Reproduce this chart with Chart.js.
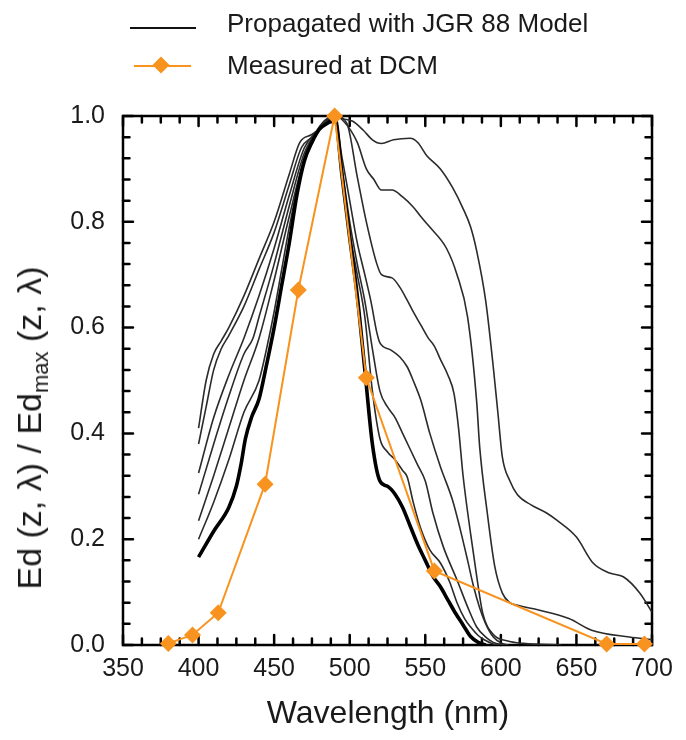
<!DOCTYPE html>
<html>
<head>
<meta charset="utf-8">
<script src="https://cdn.jsdelivr.net/npm/chart.js@4.4.1/dist/chart.umd.min.js"></script>
<style>
  body { margin: 0; background: #fff; }
  #wrap { position: relative; width: 686px; height: 740px; font-family: "Liberation Sans", Arial, sans-serif; color: #1a1a1a; }
  #chart { position: absolute; left: 0; top: 0; }
  .leg-row { position: absolute; left: 0; height: 30px; width: 686px; }
  .leg-line { position: absolute; height: 0; }
  .leg-text { position: absolute; left: 227px; top: 0; line-height: 30px; font-size: 26px; white-space: nowrap; }
  .leg-diamond { position: absolute; width: 12px; height: 12px; background: #f7931e; transform: rotate(45deg); }
  #ytitle { position: absolute; left: 32px; top: 428px; transform: translate(-50%, -50%) rotate(-90deg); font-size: 34px; white-space: nowrap; }
  #ytitle sub { font-size: 22px; vertical-align: -7px; }
  #xtitle { position: absolute; left: 388px; top: 712px; transform: translate(-50%, -50%); font-size: 32px; white-space: nowrap; }
</style>
</head>
<body>
<div id="wrap">
  <canvas id="chart" width="686" height="740"></canvas>
  <div class="leg-row" style="top:8px">
    <div class="leg-line" style="left:130px;top:19px;width:66px;border-top:2px solid #111"></div>
    <div class="leg-text">Propagated with JGR 88 Model</div>
  </div>
  <div class="leg-row" style="top:50px">
    <div class="leg-line" style="left:134px;top:15px;width:57px;border-top:2px solid #f7931e"></div>
    <div class="leg-diamond" style="left:155px;top:9px"></div>
    <div class="leg-text">Measured at DCM</div>
  </div>
  <div id="ytitle">Ed (z, λ) / Ed<sub>max</sub> (z, λ)</div>
  <div id="xtitle">Wavelength (nm)</div>
</div>
<script>
// model curves, shallow (broad) to deep (narrow, thick line)
var nmA = [400,405,410,415,420,430,440,450,460,467,475,482,490,495,502,509,515,521,529,540,545,551,560,568,575,580,584,590,595,598,601,606,611,620,630,637,650,661,672,681,692,700];
var edA = [.41,.50,.55,.575,.60,.66,.73,.80,.89,.95,.965,.98,1.0,.995,.99,.973,.955,.948,.955,.958,.95,.925,.90,.865,.825,.79,.745,.65,.525,.44,.355,.31,.284,.265,.25,.236,.204,.155,.136,.129,.098,.062];

var nmB = [400,405,410,415,420,430,440,450,460,468,475,482,490,496,505,511,516,521,528,535,542,547,553,564,571,578,584,586,591,596,601,606,611,625,645,660,685,700];
var edB = [.38,.45,.52,.56,.585,.64,.71,.78,.87,.94,.96,.98,1.0,.99,.95,.90,.88,.86,.86,.847,.828,.81,.79,.75,.70,.62,.46,.374,.25,.148,.098,.08,.075,.066,.05,.028,.015,.01];

var nmC = [400,410,420,430,440,450,460,470,478,490,498,505,511,518,521,528,533,538,542,547,552,556,560,565,569,572,575,580,584,588,595,604,615,640];
var edC = [.325,.43,.51,.58,.66,.75,.85,.94,.97,1.0,.987,.885,.80,.72,.70,.694,.677,.652,.63,.605,.58,.565,.54,.51,.475,.41,.32,.21,.13,.06,.02,.008,.003,0];

var nmD = [400,410,420,430,436,440,450,460,470,478,490,495,500,505,510,514,518,520,527,533,538,542,547,553,560,568,573,578,582,586,590,595,600,605];
var edD = [.285,.38,.47,.55,.58,.62,.72,.83,.93,.97,1.0,.92,.84,.76,.70,.65,.59,.571,.558,.545,.526,.50,.463,.40,.337,.274,.22,.16,.11,.07,.04,.015,.004,0];

var nmE = [400,410,420,430,440,450,460,470,478,490,495,500,505,510,515,520,525,530,535,540,545,550,555,562,571,578,584,590,595,600,605];
var edE = [.235,.32,.41,.50,.58,.69,.81,.92,.97,1.0,.90,.80,.72,.65,.56,.48,.45,.43,.40,.37,.34,.31,.25,.185,.123,.072,.034,.015,.005,.001,0];

var nmF = [400,410,420,430,440,445,450,455,460,465,470,480,490,495,500,505,510,515,520,525,530,535,538,542,547,553,560,566,571,576,580,585,589,595,600];
var edF = [.20,.27,.35,.44,.50,.56,.63,.71,.79,.86,.92,.98,1.0,.89,.78,.70,.62,.48,.39,.365,.35,.33,.318,.27,.22,.18,.155,.12,.08,.05,.034,.018,.01,.002,0];

var nmT = [400,410,420,425,428,431,435,440,445,450,455,460,465,470,475,480,487,490,495,500,505,510,515,520,525,530,535,540,545,550,555,560,565,570,575,580,585,590];
var edT = [.166,.215,.26,.30,.34,.39,.43,.465,.53,.60,.68,.76,.85,.915,.95,.975,.99,1.0,.885,.77,.66,.52,.38,.31,.30,.285,.26,.225,.19,.16,.13,.11,.085,.06,.038,.016,.005,0];

// measured at DCM
var nmDCM = [380,396,413,444,466,490,511,556,670,695];
var edDCM = [0.003,0.019,0.061,0.304,0.671,1.0,0.505,0.14,0.002,0.002];

var xTicks = [350,400,450,500,550,600,650,700];
var yTicks = [0,0.2,0.4,0.6,0.8,1.0];

function pts(nm, ed) {
  return nm.map(function(v, i){ return {x: v, y: ed[i]}; });
}

function modelSet(nm, ed, thick) {
  return {
    label: "Propagated with JGR 88 Model",
    data: pts(nm, ed),
    borderColor: thick ? "#000" : "#2b2b2b",
    borderWidth: thick ? 3.6 : 1.6,
    pointRadius: 0,
    fill: false,
    cubicInterpolationMode: "monotone"
  };
}

// inward ticks on all four sides plus the box
var frameTicks = {
  id: "frameTicks",
  beforeDatasetsDraw: function(chart) {
    var ctx = chart.ctx, a = chart.chartArea;
    var x = chart.scales.x, y = chart.scales.y;
    ctx.save();
    ctx.strokeStyle = "#000";
    ctx.lineWidth = 2.5;
    ctx.strokeRect(a.left, a.top, a.right - a.left, a.bottom - a.top);
    ctx.beginPath();
    ctx.lineCap = "round";
    for (var i = 0; i <= 28; i++) {
      var v = xTicks[0] + i * 12.5;
      var px = x.getPixelForValue(v);
      var len = (i % 4 === 0) ? 10 : 6.5;
      ctx.moveTo(px, a.bottom); ctx.lineTo(px, a.bottom - len);
      ctx.moveTo(px, a.top); ctx.lineTo(px, a.top + len);
    }
    for (var j = 0; j <= 25; j++) {
      var py = y.getPixelForValue(j * 0.04);
      var l2 = (j % 5 === 0) ? 10 : 6.5;
      ctx.moveTo(a.left, py); ctx.lineTo(a.left + l2, py);
      ctx.moveTo(a.right, py); ctx.lineTo(a.right - l2, py);
    }
    ctx.stroke();
    ctx.restore();
  }
};

var ctx = document.getElementById("chart");

var chart = new Chart(ctx, {
  type: "line",
  data: {
    datasets: [
      {
        label: "Measured at DCM",
        data: pts(nmDCM, edDCM),
        borderColor: "#f7931e",
        backgroundColor: "#f7931e",
        borderWidth: 2,
        pointStyle: "rectRot",
        pointRadius: 8.5,
        pointBorderWidth: 0,
        fill: false,
        tension: 0,
        clip: false
      },
      modelSet(nmT, edT, true),
      modelSet(nmF, edF),
      modelSet(nmE, edE),
      modelSet(nmD, edD),
      modelSet(nmC, edC),
      modelSet(nmB, edB),
      modelSet(nmA, edA)
    ]
  },
  options: {
    responsive: false,
    animation: false,
    devicePixelRatio: 1,
    layout: { padding: { top: 116, right: 34, left: 0, bottom: 0 } },
    plugins: { legend: { display: false }, tooltip: { enabled: false }, title: { display: false } },
    scales: {
      x: {
        type: "linear",
        min: 350, max: 700,
        afterBuildTicks: function(s) { s.ticks = xTicks.map(function(v){ return {value: v}; }); },
        afterFit: function(s) { s.height = 95; },
        grid: { display: false, drawTicks: false },
        border: { display: false },
        ticks: { color: "#1a1a1a", padding: 9, maxRotation: 0, font: { family: "'Liberation Sans', Arial", size: 25 } }
      },
      y: {
        min: 0, max: 1,
        afterBuildTicks: function(s) { s.ticks = yTicks.map(function(v){ return {value: v}; }); },
        afterFit: function(s) { s.width = 123; },
        grid: { display: false, drawTicks: false },
        border: { display: false },
        ticks: {
          color: "#1a1a1a", padding: 18,
          font: { family: "'Liberation Sans', Arial", size: 25 },
          callback: function(v) { return Number(v).toFixed(1); }
        }
      }
    }
  },
  plugins: [frameTicks]
});
</script>
</body>
</html>
